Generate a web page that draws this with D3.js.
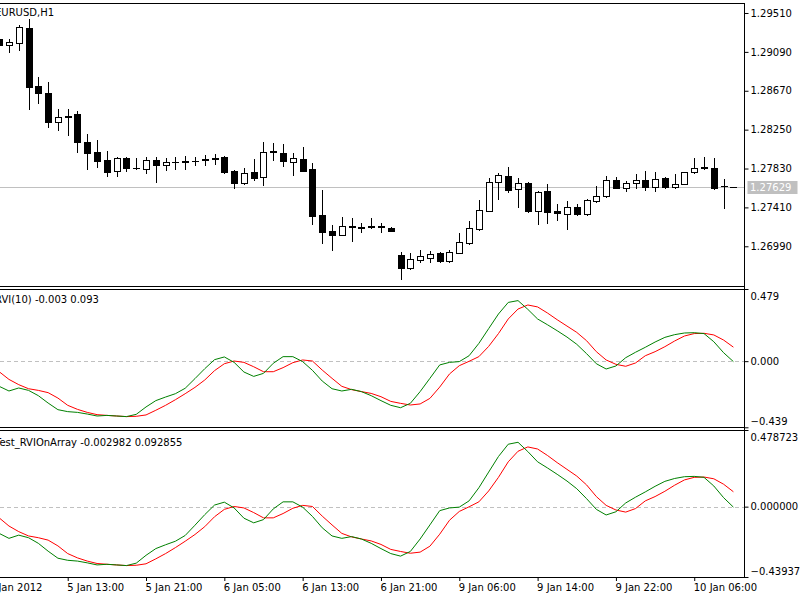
<!DOCTYPE html>
<html>
<head>
<meta charset="utf-8">
<script src="https://cdn.jsdelivr.net/npm/d3@7.9.0/dist/d3.min.js"></script>
<style>
  body { margin: 0; background: #fff; }
  svg { display: block; font-family: "DejaVu Sans", sans-serif; font-size: 10px; }
</style>
</head>
<body>
<div id="chart"></div>
<script>
// EURUSD H1 bars (index 0 = 5 Jan 06:00)
const opens = [1.29226,1.29164,1.29189,1.29344,1.28721,1.28649,1.28336,1.28397,1.28416,1.28120,
  1.28005,1.27922,1.27803,1.27940,1.27832,1.27822,1.27922,1.27868,1.27905,1.27900,
  1.27910,1.27926,1.27936,1.27951,1.27803,1.27670,1.27789,1.27742,1.28010,1.28001,
  1.27904,1.27933,1.27822,1.27328,1.27158,1.27112,1.27205,1.27189,1.27200,1.27205,
  1.27191,1.26896,1.26752,1.26842,1.26867,1.26921,1.26831,1.26921,1.27029,1.27177,
  1.27374,1.27681,1.27752,1.27606,1.27677,1.27374,1.27590,1.27371,1.27336,1.27418,
  1.27336,1.27482,1.27533,1.27706,1.27623,1.27670,1.27706,1.27627,1.27724,1.27627,
  1.27663,1.27789,1.27839,1.27832,1.27641,1.27629];
const highs = [1.29240,1.29226,1.29380,1.29442,1.28822,1.28768,1.28470,1.28470,1.28451,1.28200,
  1.28138,1.28019,1.27958,1.27951,1.27940,1.27958,1.27958,1.27940,1.27958,1.27965,
  1.27958,1.27976,1.27987,1.27965,1.27814,1.27839,1.27933,1.28120,1.28109,1.28095,
  1.28001,1.28059,1.27886,1.27598,1.27220,1.27303,1.27292,1.27238,1.27292,1.27238,
  1.27200,1.26925,1.26921,1.26950,1.26942,1.26932,1.26950,1.27130,1.27263,1.27490,
  1.27724,1.27785,1.27850,1.27724,1.27688,1.27585,1.27663,1.27447,1.27479,1.27447,
  1.27498,1.27644,1.27752,1.27742,1.27695,1.27771,1.27806,1.27789,1.27735,1.27771,
  1.27796,1.27940,1.27951,1.27940,1.27717,1.27631];
const lows = [1.29153,1.29092,1.29110,1.28470,1.28534,1.28282,1.28246,1.28192,1.28012,1.27822,
  1.27850,1.27752,1.27752,1.27806,1.27828,1.27778,1.27688,1.27814,1.27822,1.27822,
  1.27868,1.27868,1.27879,1.27785,1.27616,1.27663,1.27706,1.27652,1.27922,1.27860,
  1.27760,1.27803,1.27228,1.27029,1.26950,1.27108,1.27047,1.27148,1.27188,1.27141,
  1.27150,1.26634,1.26742,1.26824,1.26824,1.26817,1.26817,1.26914,1.27015,1.27166,
  1.27370,1.27498,1.27580,1.27411,1.27364,1.27231,1.27245,1.27274,1.27174,1.27333,
  1.27333,1.27472,1.27519,1.27616,1.27587,1.27616,1.27598,1.27587,1.27620,1.27624,
  1.27660,1.27785,1.27825,1.27614,1.27400,1.27627];
const closes = [1.29164,1.29200,1.29355,1.28707,1.28642,1.28336,1.28390,1.28383,1.28113,1.27994,
  1.27914,1.27796,1.27940,1.27832,1.27835,1.27922,1.27868,1.27897,1.27900,1.27906,
  1.27916,1.27932,1.27942,1.27796,1.27670,1.27785,1.27731,1.28012,1.28014,1.27914,
  1.27940,1.27806,1.27317,1.27148,1.27112,1.27209,1.27200,1.27193,1.27204,1.27200,
  1.27158,1.26752,1.26850,1.26885,1.26907,1.26831,1.26932,1.27033,1.27184,1.27382,
  1.27681,1.27760,1.27598,1.27677,1.27374,1.27580,1.27357,1.27346,1.27418,1.27336,
  1.27490,1.27536,1.27706,1.27623,1.27670,1.27706,1.27634,1.27717,1.27627,1.27663,
  1.27789,1.27839,1.27842,1.27616,1.27638,1.27629];

// RVI(10) main (green) and signal (red)
const rviMain = [-0.167,-0.198,-0.178,-0.194,-0.229,-0.278,-0.322,-0.335,-0.340,-0.351,
  -0.364,-0.360,-0.364,-0.368,-0.353,-0.304,-0.262,-0.238,-0.216,-0.180,
  -0.116,-0.050,0.010,0.028,-0.008,-0.072,-0.101,-0.081,-0.014,0.030,
  0.030,-0.003,-0.061,-0.132,-0.183,-0.198,-0.187,-0.202,-0.229,-0.262,
  -0.293,-0.309,-0.280,-0.202,-0.114,-0.025,-0.008,-0.003,0.036,0.118,
  0.216,0.313,0.390,0.402,0.344,0.280,0.242,0.202,0.160,0.112,
  0.050,-0.017,-0.052,-0.032,0.023,0.059,0.092,0.127,0.158,0.176,
  0.187,0.189,0.183,0.129,0.056,-0.003];
const rviSignal = [-0.070,-0.121,-0.156,-0.183,-0.194,-0.209,-0.245,-0.293,-0.320,-0.340,
  -0.355,-0.360,-0.364,-0.368,-0.366,-0.357,-0.326,-0.293,-0.256,-0.216,
  -0.174,-0.125,-0.063,-0.017,0.001,-0.008,-0.037,-0.070,-0.070,-0.043,
  -0.010,0.008,0.001,-0.059,-0.114,-0.167,-0.189,-0.202,-0.214,-0.236,
  -0.267,-0.280,-0.291,-0.284,-0.247,-0.172,-0.085,-0.030,-0.001,0.030,
  0.098,0.183,0.280,0.346,0.373,0.360,0.320,0.275,0.233,0.191,
  0.136,0.063,0.008,-0.021,-0.034,-0.012,0.036,0.063,0.096,0.134,
  0.167,0.183,0.185,0.174,0.140,0.093];

// axis ticks / labels
const priceTicks = [1.29510, 1.29090, 1.28670, 1.28250, 1.27830, 1.27410, 1.26990];
const rviTicks = [0.479, 0, -0.439];
const rviTicks2 = [0.478723, 0, -0.439375];
const timeTickIdx = [-1, 7, 15, 23, 31, 39, 47, 55, 63, 71];
const timeTickLabels = ["5 Jan 2012", "5 Jan 13:00", "5 Jan 21:00", "6 Jan 05:00", "6 Jan 13:00",
  "6 Jan 21:00", "9 Jan 06:00", "9 Jan 14:00", "9 Jan 22:00", "10 Jan 06:00"];
const panelTitles = ["EURUSD,H1", "RVI(10) -0.003 0.093", "Test_RVIOnArray -0.002982 0.092855"];

const W = 800, H = 600;
const axisX = 744.5;

const svg = d3.select("#chart").append("svg")
  .attr("width", W).attr("height", H);

svg.append("rect").attr("width", W).attr("height", H).attr("fill", "#fff");

// bar index -> x
const x = d3.scaleLinear().domain([0, 75]).range([-0.83, 733.4]);

// panels
const panels = [
  { top: 3.5, bottom: 286.5 },
  { top: 289.5, bottom: 427.5 },
  { top: 430.5, bottom: 577.5 }
];

const yPrice = d3.scaleLinear().domain([1.26561, 1.29618]).range([286, 3]);
const yRvi = d3.scaleLinear().domain([-0.439, 0.479]).range([427.3, 289]);
const yRvi2 = d3.scaleLinear().domain([-0.439375, 0.478723]).range([577, 430]);

// frames
panels.forEach(p => {
  svg.append("rect")
    .attr("x", -2.5).attr("y", p.top)
    .attr("width", axisX + 2.5).attr("height", p.bottom - p.top)
    .attr("fill", "none").attr("stroke", "#000");
});

// current price line
const last = closes[closes.length - 1];
const yLast = Math.round(yPrice(last)) + 0.5;
svg.append("line")
  .attr("x1", 0).attr("x2", axisX).attr("y1", yLast).attr("y2", yLast)
  .attr("stroke", "#c0c0c0");

// candles
const bars = d3.range(opens.length).map(i => ({
  i, o: opens[i], h: highs[i], l: lows[i], c: closes[i]
}));

const candles = svg.append("g");
bars.forEach(d => {
  const cx = Math.round(x(d.i));
  const g = candles.append("g");
  g.append("line")
    .attr("x1", cx + 0.5).attr("x2", cx + 0.5)
    .attr("y1", Math.round(yPrice(d.h))).attr("y2", Math.round(yPrice(d.l)) + 1)
    .attr("stroke", "#000");
  const yt = Math.round(yPrice(Math.max(d.o, d.c)));
  const yb = Math.round(yPrice(Math.min(d.o, d.c)));
  if (yb - yt < 1) {
    g.append("line")
      .attr("x1", cx - 3).attr("x2", cx + 4)
      .attr("y1", yt + 0.5).attr("y2", yt + 0.5)
      .attr("stroke", "#000");
  } else {
    g.append("rect")
      .attr("x", cx - 2.5).attr("y", yt + 0.5)
      .attr("width", 6).attr("height", yb - yt)
      .attr("fill", d.c >= d.o ? "#fff" : "#000")
      .attr("stroke", "#000");
  }
});

// zero lines
[yRvi, yRvi2].forEach(ys => {
  const yz = Math.round(ys(0)) + 0.5;
  svg.append("line")
    .attr("x1", 0).attr("x2", axisX).attr("y1", yz).attr("y2", yz)
    .attr("stroke", "#c0c0c0").attr("stroke-dasharray", "4,3");
});

// RVI lines
[yRvi, yRvi2].forEach(ys => {
  const line = d3.line().x((d, i) => x(i)).y(d => ys(d));
  svg.append("path").datum(rviSignal)
    .attr("fill", "none").attr("stroke", "#ff0000").attr("stroke-width", 1)
    .attr("d", line);
  svg.append("path").datum(rviMain)
    .attr("fill", "none").attr("stroke", "#008000").attr("stroke-width", 1)
    .attr("d", line);
});

// right axis line
svg.append("line")
  .attr("x1", axisX).attr("x2", axisX).attr("y1", 3).attr("y2", 578)
  .attr("stroke", "#000");

// price axis
const priceAxis = svg.append("g")
  .attr("transform", `translate(${axisX},0)`)
  .call(d3.axisRight(yPrice).tickValues(priceTicks)
    .tickFormat(d3.format(".5f")).tickSize(4).tickPadding(2));
priceAxis.select(".domain").remove();

// current price label
svg.append("rect")
  .attr("x", 747.5).attr("y", yLast - 6.5)
  .attr("width", 50).attr("height", 13)
  .attr("fill", "#c0c0c0");
svg.append("text")
  .attr("x", 750).attr("y", yLast).attr("dy", "0.35em")
  .attr("fill", "#fff").text(d3.format(".5f")(last));

// indicator axes
function rviAxis(ys, ticks, fmt) {
  const g = svg.append("g")
    .attr("transform", `translate(${axisX},0)`)
    .call(d3.axisRight(ys).tickValues(ticks).tickFormat(fmt).tickSize(4).tickPadding(2));
  g.select(".domain").remove();
  g.selectAll(".tick text")
    .attr("dy", (d, i) => i === 0 ? "1.0em" : (i === 2 ? "-0.25em" : "0.32em"));
}
rviAxis(yRvi, rviTicks, d3.format(".3f"));
rviAxis(yRvi2, rviTicks2, d3.format(".6f"));

// time axis
const timeAxis = svg.append("g")
  .attr("transform", "translate(0,577)")
  .call(d3.axisBottom(x).tickValues(timeTickIdx)
    .tickFormat((d, i) => timeTickLabels[i]).tickSize(4).tickPadding(3));
timeAxis.select(".domain").remove();
timeAxis.selectAll(".tick text").attr("text-anchor", "start").attr("x", -1);

svg.selectAll(".tick text").attr("fill", "#000").style("font-family", "DejaVu Sans").style("font-size", "10px");
svg.selectAll(".tick line").attr("stroke", "#000");

// panel titles
const titleY = [12, 299, 442];
panelTitles.forEach((t, i) => {
  svg.append("text")
    .attr("x", -5).attr("y", titleY[i]).attr("dy", "0.35em")
    .attr("fill", "#000").text(t);
});
</script>
</body>
</html>
